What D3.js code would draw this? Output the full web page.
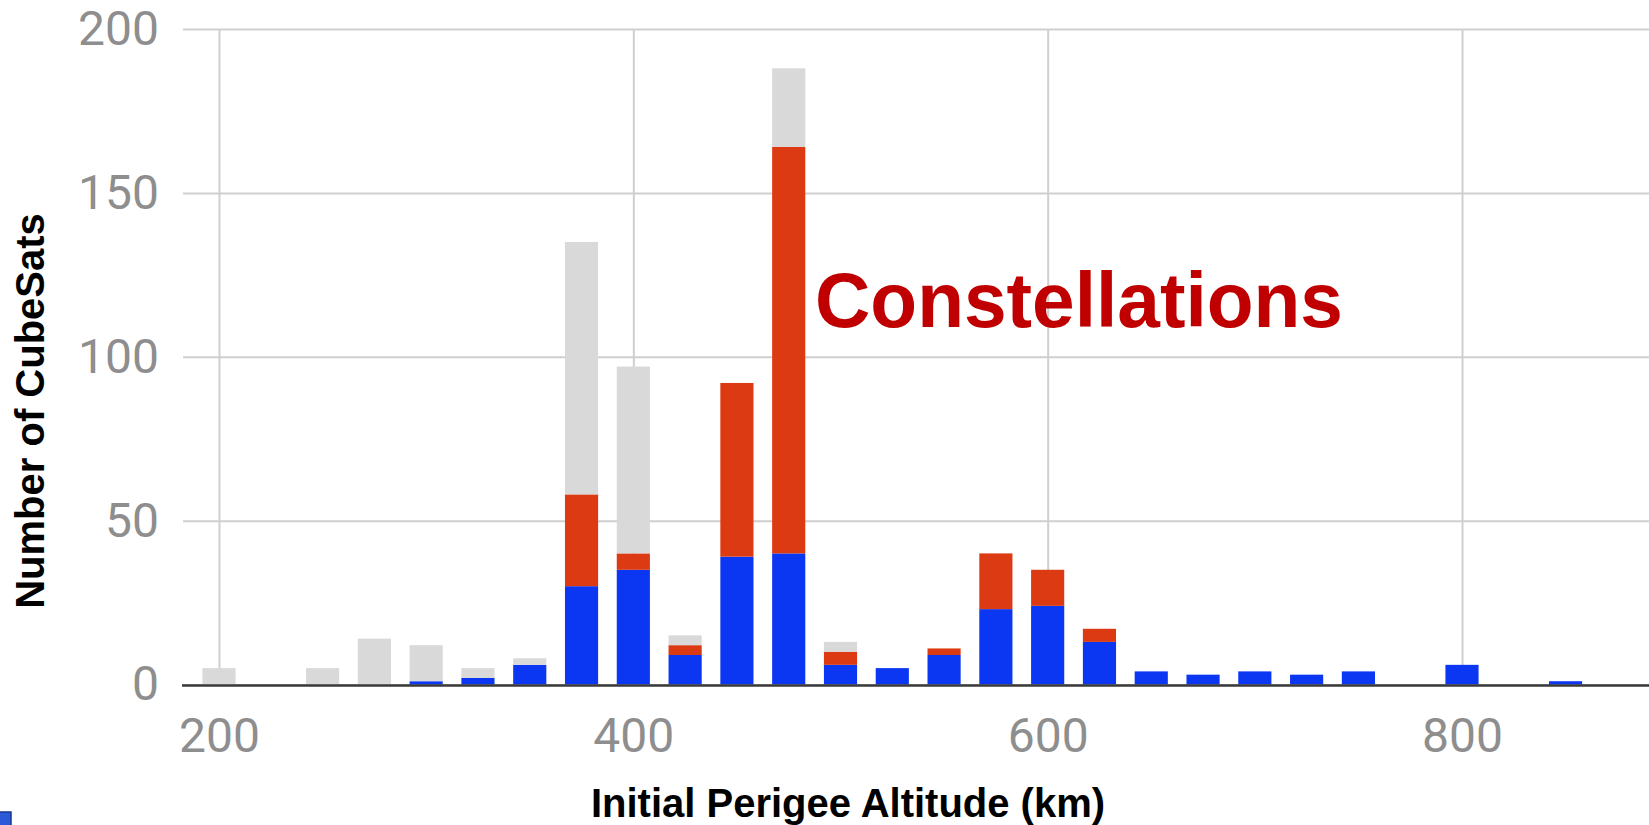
<!DOCTYPE html>
<html>
<head>
<meta charset="utf-8">
<script src="https://cdn.jsdelivr.net/npm/d3@7"></script>
<style>
  html, body { margin: 0; padding: 0; background: #fff; }
  svg { display: block; }
</style>
</head>
<body>
<svg id="chart" width="1649" height="825"></svg>
<script>
// bins of initial perigee altitude (km), 25 km wide
const altitudes = [200, 225, 250, 275, 300, 325, 350, 375, 400, 425, 450, 475, 500, 525,
                   550, 575, 600, 625, 650, 675, 700, 725, 750, 775, 800, 825, 850];
// bottom (blue) series
const blueValues = [0, 0, 0, 0, 1, 2, 6, 30, 35, 9, 39, 40, 6, 5,
                    9, 23, 24, 13, 4, 3, 4, 3, 4, 0, 6, 0, 1];
// middle (red) series - constellations
const redValues = [0, 0, 0, 0, 0, 0, 0, 28, 5, 3, 53, 124, 4, 0,
                   2, 17, 11, 4, 0, 0, 0, 0, 0, 0, 0, 0, 0];
// top (light grey) series
const grayValues = [5, 0, 5, 14, 11, 3, 2, 77, 57, 3, 0, 24, 3, 0,
                    0, 0, 0, 0, 0, 0, 0, 0, 0, 0, 0, 0, 0];

const xTicks = [200, 400, 600, 800];
const yTicks = [0, 50, 100, 150, 200];
const seriesKeys = ["blue", "red", "gray"];
const seriesColors = { blue: "#0b36f2", red: "#dc3a12", gray: "#d9d9d9" };

const rows = altitudes.map((a, i) => ({
  alt: a, blue: blueValues[i], red: redValues[i], gray: grayValues[i]
}));

const svg = d3.select("#chart");
const plotLeft = 183, plotRight = 1649, plotTop = 29, plotBottom = 684.5;

const x = d3.scaleLinear().domain([200, 800]).range([219, 1462]);
const y = d3.scaleLinear().domain([0, 200]).range([plotBottom, plotTop]);
const barW = x(216) - x(200);

// grid + y labels
const yAxis = svg.append("g")
  .attr("transform", `translate(${plotLeft},0)`)
  .call(d3.axisLeft(y).tickValues(yTicks)
    .tickSizeInner(-(plotRight - plotLeft)).tickSizeOuter(0).tickPadding(24));
yAxis.select(".domain").remove();
yAxis.selectAll("line").attr("stroke", "#cfcfcf").attr("stroke-width", 2);
yAxis.selectAll("text")
  .attr("font-family", "Roboto, sans-serif").attr("font-size", 48)
  .attr("fill", "#8e8e8e");

// vertical grid + x labels
const xAxis = svg.append("g")
  .attr("transform", `translate(0,${plotBottom})`)
  .call(d3.axisBottom(x).tickValues(xTicks)
    .tickSizeInner(-(plotBottom - plotTop)).tickSizeOuter(0).tickPadding(33));
xAxis.select(".domain").remove();
xAxis.selectAll("line").attr("stroke", "#cfcfcf").attr("stroke-width", 2);
xAxis.selectAll("text")
  .attr("font-family", "Roboto, sans-serif").attr("font-size", 48)
  .attr("fill", "#8e8e8e");

// stacked bars
const stacked = d3.stack().keys(seriesKeys)(rows);
svg.append("g")
  .selectAll("g")
  .data(stacked)
  .join("g")
  .attr("fill", d => seriesColors[d.key])
  .selectAll("rect")
  .data(d => d.filter(p => p[1] > p[0]))
  .join("rect")
  .attr("x", d => x(d.data.alt) - barW / 2)
  .attr("y", d => y(d[1]))
  .attr("width", barW)
  .attr("height", d => y(d[0]) - y(d[1]));

// baseline
svg.append("line")
  .attr("x1", plotLeft - 1).attr("x2", plotRight)
  .attr("y1", y(0) + 1).attr("y2", y(0) + 1)
  .attr("stroke", "#3a3a3a").attr("stroke-width", 2.5);

// axis titles
svg.append("text")
  .attr("x", 848).attr("y", 817)
  .attr("text-anchor", "middle")
  .attr("font-family", "Liberation Sans, Arial, sans-serif")
  .attr("font-weight", "bold").attr("font-size", 40)
  .text("Initial Perigee Altitude (km)");

svg.append("text")
  .attr("transform", "translate(44,411) rotate(-90)")
  .attr("text-anchor", "middle")
  .attr("font-family", "Liberation Sans, Arial, sans-serif")
  .attr("font-weight", "bold").attr("font-size", 40)
  .text("Number of CubeSats");

// annotation
svg.append("text")
  .attr("x", 815).attr("y", 327)
  .attr("font-family", "Liberation Sans, Arial, sans-serif")
  .attr("font-weight", "bold").attr("font-size", 78)
  .attr("textLength", 528).attr("lengthAdjust", "spacingAndGlyphs")
  .attr("fill", "#c00000")
  .text("Constellations");

// small icon fragment in the lower-left corner
svg.append("rect")
  .attr("x", -2).attr("y", 812).attr("width", 13).attr("height", 15)
  .attr("fill", "#2a5ad8").attr("stroke", "#1b3790").attr("stroke-width", 1.5);
</script>
</body>
</html>
